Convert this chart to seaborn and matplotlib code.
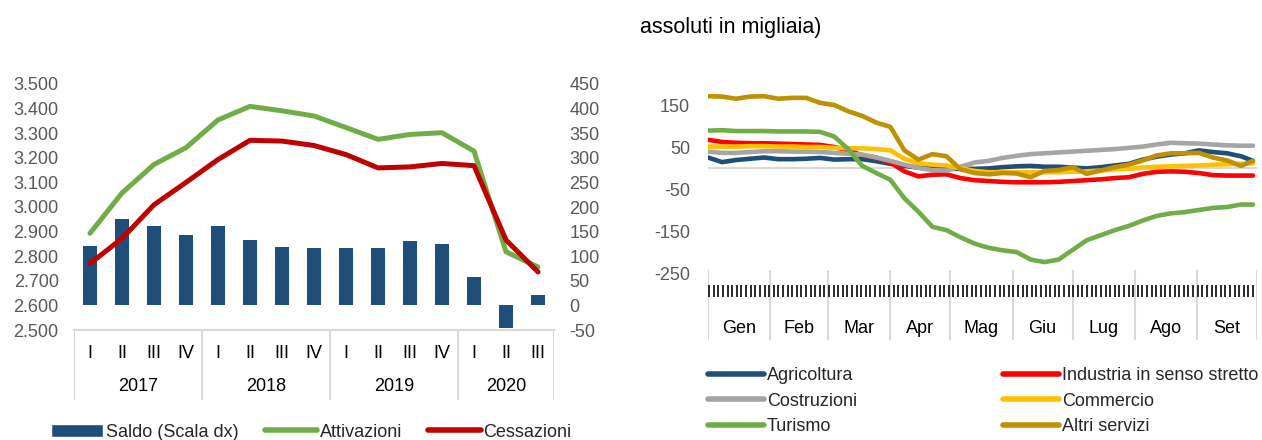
import matplotlib
matplotlib.use("Agg")
import matplotlib.pyplot as plt
from matplotlib.patches import Patch
from matplotlib.lines import Line2D
import numpy as np
import pandas as pd
import seaborn as sns

# left panel: quarterly flows 2017-2020 (thousands)
quarters = ["I", "II", "III", "IV"] * 3 + ["I", "II", "III"]
years = ["2017", "2018", "2019", "2020"]
year_len = [4, 4, 4, 3]
saldo = [120, 175, 162, 143, 162, 133, 119, 117, 116, 116, 130, 125, 58, -46, 22]
attivazioni = [2893, 3057, 3173, 3241, 3354, 3409, 3391, 3370, 3323, 3275,
               3295, 3302, 3227, 2818, 2756]
cessazioni = [2770, 2872, 3009, 3100, 3193, 3271, 3268, 3250, 3213, 3159,
              3163, 3177, 3168, 2866, 2736]

# right panel: 2020 by sector, day of year
months = ["Gen", "Feb", "Mar", "Apr", "Mag", "Giu", "Lug", "Ago", "Set"]
month_days = [31, 29, 31, 30, 31, 30, 31, 31, 30]
days = [0, 7, 14, 21, 28, 35, 42, 49, 56, 63, 70, 77, 84, 91, 98, 105, 112,
        119, 126, 133, 140, 147, 154, 161, 168, 175, 182, 189, 196, 203, 210,
        217, 224, 231, 238, 245, 252, 259, 266, 272]
agricoltura = [25, 14, 19, 22, 25, 21, 21, 22, 24, 20, 21, 21, 16, 10, 5, 1, -1,
               -2, -2, -2, -1, 2, 4, 5, 3, 3, 1, -1, 2, 6, 10, 20, 27, 32, 35,
               42, 38, 35, 28, 17]
industria = [67, 62, 60, 59, 59, 58, 57, 56, 55, 50, 42, 30, 25, 13, -8, -20,
             -16, -15, -24, -29, -31, -33, -34, -34, -34, -33, -31, -29, -27,
             -24, -22, -14, -9, -8, -9, -12, -17, -18, -18, -18]
costruzioni = [39, 36, 36, 38, 40, 40, 39, 39, 38, 36, 34, 32, 25, 17, 8, 0, -5,
               -6, 3, 13, 17, 24, 29, 33, 35, 37, 39, 41, 43, 45, 48, 51, 56,
               60, 59, 58, 56, 54, 53, 53]
commercio = [51, 51, 51, 52, 52, 51, 51, 50, 50, 48, 47, 47, 45, 42, 22, 11, 8,
             6, 0, -7, -10, -10, -10, -10, -10, -10, -9, -8, -6, -3, -2, 1, 3,
             4, 5, 6, 8, 9, 10, 11]
turismo = [89, 90, 88, 88, 88, 87, 87, 87, 86, 75, 45, 5, -12, -28, -72, -104,
           -140, -148, -165, -180, -190, -196, -200, -218, -224, -218, -195,
           -172, -160, -148, -138, -125, -114, -108, -105, -100, -95, -93,
           -87, -87]
altri_servizi = [171, 170, 165, 170, 171, 165, 167, 167, 155, 150, 135, 124,
                 108, 98, 42, 20, 33, 28, -3, -12, -15, -12, -13, -22, -7, -5,
                 2, -14, -6, 2, 8, 18, 30, 35, 35, 36, 25, 18, 5, 17]

sectors = {
    "Agricoltura": agricoltura,
    "Industria in senso stretto": industria,
    "Costruzioni": costruzioni,
    "Commercio": commercio,
    "Turismo": turismo,
    "Altri servizi": altri_servizi,
}
palette = {
    "Agricoltura": "#1F4E79",
    "Industria in senso stretto": "#FF0000",
    "Costruzioni": "#A5A5A5",
    "Commercio": "#FFC000",
    "Turismo": "#70AD47",
    "Altri servizi": "#BF9000",
}

sns.set_theme(style="white")
plt.rcParams["font.family"] = ["Liberation Sans", "DejaVu Sans"]
plt.rcParams["axes.unicode_minus"] = False
FS = 13
GRAY_TXT = "#595959"
GRID = "#D9D9D9"

W, H = 1262, 440
fig = plt.figure(figsize=(W / 100, H / 100), dpi=100)


def box(x0, y0, x1, y1):
    # pixel box (top-left origin) -> figure fraction rect
    return [x0 / W, 1 - y1 / H, (x1 - x0) / W, (y1 - y0) / H]


# ---------------- left panel ----------------
ax_bar = fig.add_axes(box(74, 84, 554, 330))
ax_line = ax_bar.twinx()
idx = np.arange(len(quarters))
sns.barplot(x=idx, y=saldo, ax=ax_bar, color="#1F4E79", saturation=1,
            width=0.42, linewidth=0)
sns.lineplot(x=idx, y=attivazioni, ax=ax_line, color="#70AD47", lw=3.6,
             solid_capstyle="round")
sns.lineplot(x=idx, y=cessazioni, ax=ax_line, color="#C00000", lw=3.6,
             solid_capstyle="round")

ax_bar.set_xlim(-0.5, len(quarters) - 0.5)
ax_bar.set_ylim(-50, 450)
ax_line.set_ylim(2500, 3500)
ax_bar.yaxis.tick_right()
ax_line.yaxis.tick_left()
ax_bar.set_yticks(range(-50, 451, 50))
ax_line.set_yticks(range(2500, 3501, 100))
ax_line.set_yticklabels([f"{v:,}".replace(",", ".") for v in range(2500, 3501, 100)])
for a in (ax_bar, ax_line):
    a.set_xticks([])
    a.set_xlabel("")
    a.set_ylabel("")
    a.tick_params(axis="y", length=0, labelsize=FS, labelcolor=GRAY_TXT, pad=11)
    for s in a.spines.values():
        s.set_visible(False)
ax_bar.spines["bottom"].set_visible(True)
ax_bar.spines["bottom"].set_color(GRID)
ax_bar.spines["bottom"].set_linewidth(1.5)
ax_bar.spines["bottom"].set_position(("data", -50))

cat_l = fig.add_axes(box(74, 330, 554, 400))
cat_l.set_xlim(-0.5, len(quarters) - 0.5)
cat_l.set_ylim(0, 1)
cat_l.axis("off")
bounds = np.concatenate([[0], np.cumsum(year_len)]) - 0.5
cat_l.vlines(bounds, 0, 1, color=GRID, lw=1.5)
for i, q in enumerate(quarters):
    cat_l.text(i, 0.66, q, ha="center", va="center", fontsize=FS, color="black")
for yr, a, b in zip(years, bounds[:-1], bounds[1:]):
    cat_l.text((a + b) / 2, 0.19, yr, ha="center", va="center", fontsize=FS,
               color="black")

handles_l = [
    Patch(facecolor="#1F4E79", label="Saldo (Scala dx)"),
    Line2D([], [], color="#70AD47", lw=4, solid_capstyle="round", label="Attivazioni"),
    Line2D([], [], color="#C00000", lw=4, solid_capstyle="round", label="Cessazioni"),
]
fig.legend(handles=handles_l, loc="center", bbox_to_anchor=(311 / W, 1 - 432 / H),
           ncol=3, frameon=False, fontsize=FS, handlelength=2.9,
           handletextpad=0.15, columnspacing=1.45, borderpad=0)

# ---------------- right panel ----------------
df = pd.DataFrame(
    [(d, name, v) for name, vals in sectors.items() for d, v in zip(days, vals)],
    columns=["day", "settore", "valore"],
)
month_bounds = np.concatenate([[0], np.cumsum(month_days)])

ax_r = fig.add_axes(box(708, 84, 1257, 273))
ax_r.axhline(0, color=GRID, lw=1.5, zorder=0)
sns.lineplot(data=df, x="day", y="valore", hue="settore",
             hue_order=list(sectors), palette=palette, lw=3.3, ax=ax_r,
             legend=False, solid_capstyle="round")
ax_r.set_xlim(0, month_bounds[-1])
ax_r.set_ylim(-250, 200)
ax_r.set_yticks([-250, -150, -50, 50, 150])
ax_r.set_xticks([])
ax_r.set_xlabel("")
ax_r.set_ylabel("")
ax_r.tick_params(axis="y", length=0, labelsize=FS, labelcolor=GRAY_TXT, pad=13)
for s in ax_r.spines.values():
    s.set_visible(False)

cat_r = fig.add_axes(box(708, 270, 1257, 340))
cat_r.set_xlim(0, month_bounds[-1])
cat_r.set_ylim(0, 1)
cat_r.axis("off")
cat_r.vlines(month_bounds, 0, 1, color=GRID, lw=1.5)
cat_r.vlines(np.arange(0.6, month_bounds[-1] - 1, 2.3), 0.61, 0.79,
             color="#1A1A1A", lw=1.3)
for m, a, b in zip(months, month_bounds[:-1], month_bounds[1:]):
    cat_r.text((a + b) / 2, 0.16, m, ha="center", va="center", fontsize=FS,
               color="black")

order = ["Agricoltura", "Costruzioni", "Turismo",
         "Industria in senso stretto", "Commercio", "Altri servizi"]
handles_r = [Line2D([], [], color=palette[n], lw=4, solid_capstyle="round",
                    label=n) for n in order]
fig.legend(handles=handles_r, loc="upper left",
           bbox_to_anchor=(708 / W, 1 - 367 / H), ncol=2, frameon=False,
           fontsize=FS, handlelength=3.1, handletextpad=0.15,
           columnspacing=8.1, labelspacing=0.48, borderpad=0,
           borderaxespad=0)

fig.text(731 / W, 1 - 27 / H, "assoluti in migliaia)", ha="center",
         va="center", fontsize=15.5, color="black")

fig.savefig("out.png", dpi=100)
